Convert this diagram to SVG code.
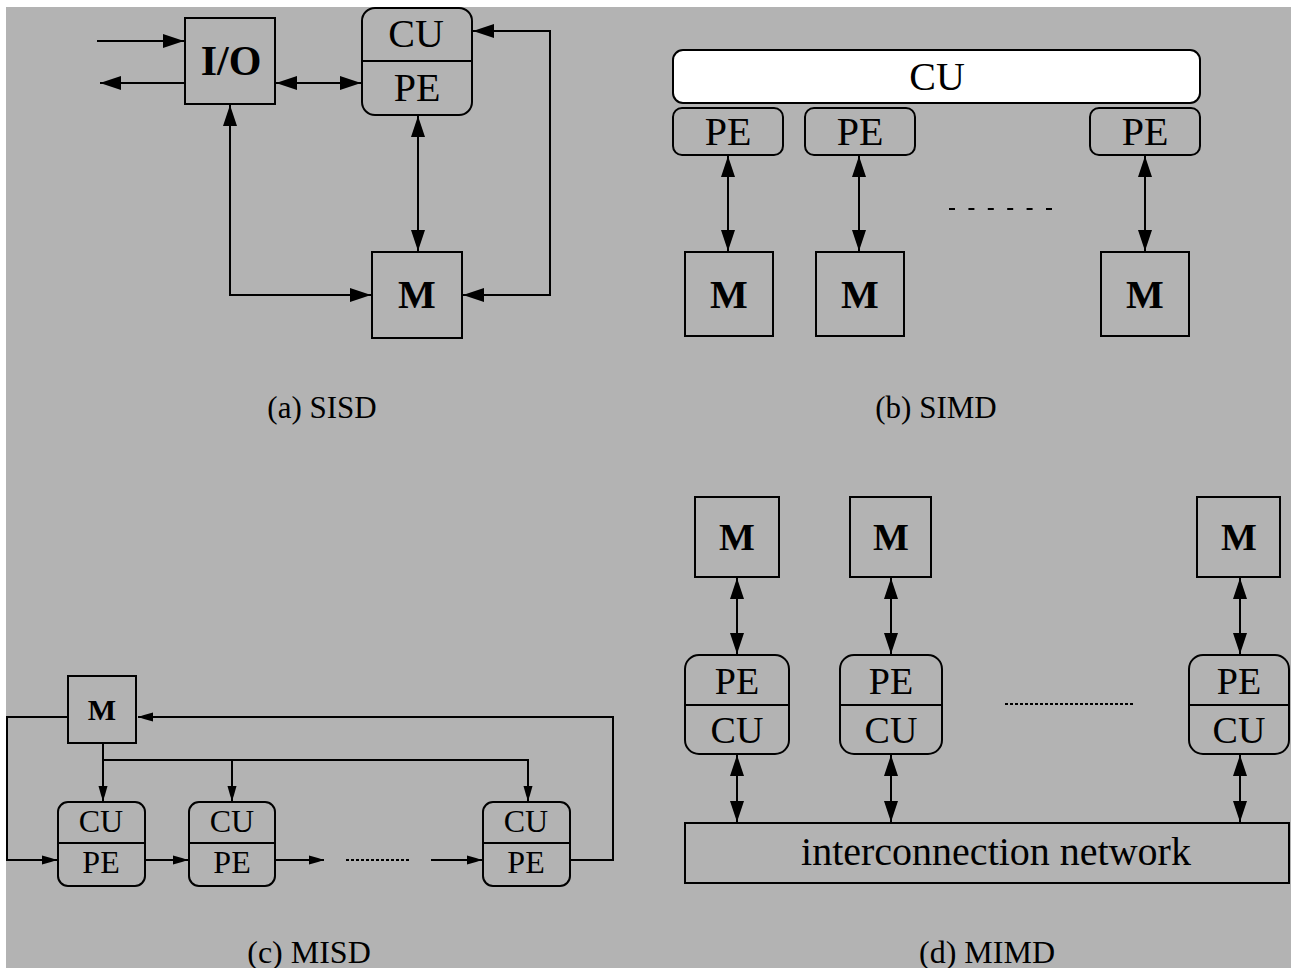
<svg xmlns="http://www.w3.org/2000/svg" width="1291" height="968" viewBox="0 0 1291 968">
<style>
.bx{fill:none;stroke:#000;stroke-width:2}
.wb{fill:#fff;stroke:#000;stroke-width:2}
.ln{fill:none;stroke:#000;stroke-width:2}
.t{font-family:"Liberation Serif","Times New Roman",serif;fill:#000;text-anchor:middle}
.b{font-weight:bold}
.a{marker-end:url(#ah)}
.aa{marker-start:url(#ah);marker-end:url(#ah)}
.s{marker-end:url(#as)}
</style>
<defs>
<marker id="ah" markerUnits="userSpaceOnUse" viewBox="0 -8 22 16" refX="21" refY="0" markerWidth="22" markerHeight="16" orient="auto-start-reverse">
<path d="M0,-7 L12,-3 L21,0 L12,3 L0,7 Z" fill="#000"/>
</marker>
<marker id="as" markerUnits="userSpaceOnUse" viewBox="0 -5 16 10" refX="15" refY="0" markerWidth="16" markerHeight="10" orient="auto-start-reverse">
<path d="M0,-4.5 L9,-2 L15,0 L9,2 L0,4.5 Z" fill="#000"/>
</marker>
</defs>
<rect x="0" y="0" width="1291" height="968" fill="#fff"/>
<rect x="6" y="7" width="1285" height="961" fill="#b3b3b3"/>

<g id="connectors">
<!-- SISD -->
<path class="ln a" d="M97,41 H184"/>
<path class="ln a" d="M185,83 H100"/>
<path class="ln aa" d="M276,83 H361"/>
<path class="ln aa" d="M418,116 V251"/>
<path class="ln aa" d="M230,105 V295 H371"/>
<path class="ln aa" d="M473,31 H550 V295 H463"/>
<!-- SIMD -->
<path class="ln aa" d="M728,156 V251"/>
<path class="ln aa" d="M859,156 V251"/>
<path class="ln aa" d="M1145,156 V251"/>
<path class="ln" d="M949,209 H1052" stroke-dasharray="6,13.4"/>
<!-- MISD -->
<path class="ln s" d="M68,717 H7 V860 H57"/>
<path class="ln s" d="M570,860 H613 V717 H138"/>
<path class="ln s" d="M103,743 V801"/>
<path class="ln s" d="M103,760 H528 V801"/>
<path class="ln s" d="M232,760 V801"/>
<path class="ln s" d="M145,860 H188"/>
<path class="ln s" d="M275,860 H324"/>
<path class="ln" d="M346,860 H411" stroke-width="1.5" stroke-dasharray="3,2"/>
<path class="ln s" d="M431,860 H482"/>
<!-- MIMD -->
<path class="ln aa" d="M737,578 V654"/>
<path class="ln aa" d="M891,578 V654"/>
<path class="ln aa" d="M1240,578 V654"/>
<path class="ln aa" d="M737,755 V822"/>
<path class="ln aa" d="M891,755 V822"/>
<path class="ln aa" d="M1240,755 V822"/>
<path class="ln" d="M1005,704 H1133" stroke-width="1.5" stroke-dasharray="3,2"/>
</g>

<!-- SISD nodes -->
<g id="sisd-io">
<rect class="bx" x="185" y="18" width="90" height="86"/>
<text class="t b" x="231" y="75" font-size="42">I/O</text>
</g>
<g id="sisd-cupe">
<rect class="bx" x="362" y="8" width="110" height="107" rx="13"/>
<line class="ln" x1="362" y1="61" x2="472" y2="61"/>
<text class="t" x="416" y="47" font-size="40">CU</text>
<text class="t" x="417" y="101" font-size="40">PE</text>
</g>
<g id="sisd-m">
<rect class="bx" x="372" y="252" width="90" height="86"/>
<text class="t b" x="417" y="308" font-size="40">M</text>
</g>
<text class="t" x="322" y="418" font-size="31">(a) SISD</text>

<!-- SIMD nodes -->
<g id="simd-cu">
<rect class="wb" x="673" y="50" width="527" height="53" rx="10"/>
<text class="t" x="937" y="90" font-size="40">CU</text>
</g>
<g id="simd-pe1">
<rect class="bx" x="673" y="108" width="110" height="47" rx="9"/>
<text class="t" x="728" y="145" font-size="40">PE</text>
</g>
<g id="simd-pe2">
<rect class="bx" x="805" y="108" width="110" height="47" rx="9"/>
<text class="t" x="860" y="145" font-size="40">PE</text>
</g>
<g id="simd-pe3">
<rect class="bx" x="1090" y="108" width="110" height="47" rx="9"/>
<text class="t" x="1145" y="145" font-size="40">PE</text>
</g>
<g id="simd-m1">
<rect class="bx" x="685" y="252" width="88" height="84"/>
<text class="t b" x="729" y="308" font-size="40">M</text>
</g>
<g id="simd-m2">
<rect class="bx" x="816" y="252" width="88" height="84"/>
<text class="t b" x="860" y="308" font-size="40">M</text>
</g>
<g id="simd-m3">
<rect class="bx" x="1101" y="252" width="88" height="84"/>
<text class="t b" x="1145" y="308" font-size="40">M</text>
</g>
<text class="t" x="936" y="418" font-size="31">(b) SIMD</text>

<!-- MISD nodes -->
<g id="misd-m">
<rect class="bx" x="68" y="676" width="68" height="67"/>
<text class="t b" x="102" y="720" font-size="30">M</text>
</g>
<g id="misd-1">
<rect class="bx" x="58" y="802" width="87" height="84" rx="10"/>
<line class="ln" x1="58" y1="843" x2="145" y2="843"/>
<text class="t" x="101" y="832" font-size="32">CU</text>
<text class="t" x="101" y="873" font-size="32">PE</text>
</g>
<g id="misd-2">
<rect class="bx" x="189" y="802" width="86" height="84" rx="10"/>
<line class="ln" x1="189" y1="843" x2="275" y2="843"/>
<text class="t" x="232" y="832" font-size="32">CU</text>
<text class="t" x="232" y="873" font-size="32">PE</text>
</g>
<g id="misd-3">
<rect class="bx" x="483" y="802" width="87" height="84" rx="10"/>
<line class="ln" x1="483" y1="843" x2="570" y2="843"/>
<text class="t" x="526" y="832" font-size="32">CU</text>
<text class="t" x="526" y="873" font-size="32">PE</text>
</g>
<text class="t" x="309" y="963" font-size="32">(c) MISD</text>

<!-- MIMD nodes -->
<g id="mimd-m1">
<rect class="bx" x="695" y="497" width="84" height="80"/>
<text class="t b" x="737" y="550" font-size="38">M</text>
</g>
<g id="mimd-m2">
<rect class="bx" x="850" y="497" width="81" height="80"/>
<text class="t b" x="891" y="550" font-size="38">M</text>
</g>
<g id="mimd-m3">
<rect class="bx" x="1197" y="497" width="83" height="80"/>
<text class="t b" x="1239" y="550" font-size="38">M</text>
</g>
<g id="mimd-1">
<rect class="bx" x="685" y="655" width="104" height="99" rx="14"/>
<line class="ln" x1="685" y1="705" x2="789" y2="705"/>
<text class="t" x="737" y="694" font-size="38">PE</text>
<text class="t" x="737" y="743" font-size="38">CU</text>
</g>
<g id="mimd-2">
<rect class="bx" x="840" y="655" width="102" height="99" rx="14"/>
<line class="ln" x1="840" y1="705" x2="942" y2="705"/>
<text class="t" x="891" y="694" font-size="38">PE</text>
<text class="t" x="891" y="743" font-size="38">CU</text>
</g>
<g id="mimd-3">
<rect class="bx" x="1189" y="655" width="100" height="99" rx="14"/>
<line class="ln" x1="1189" y1="705" x2="1289" y2="705"/>
<text class="t" x="1239" y="694" font-size="38">PE</text>
<text class="t" x="1239" y="743" font-size="38">CU</text>
</g>
<g id="mimd-net">
<rect class="bx" x="685" y="823" width="604" height="60"/>
<text class="t" x="996" y="865" font-size="40">interconnection network</text>
</g>
<text class="t" x="987" y="963" font-size="32">(d) MIMD</text>
</svg>
